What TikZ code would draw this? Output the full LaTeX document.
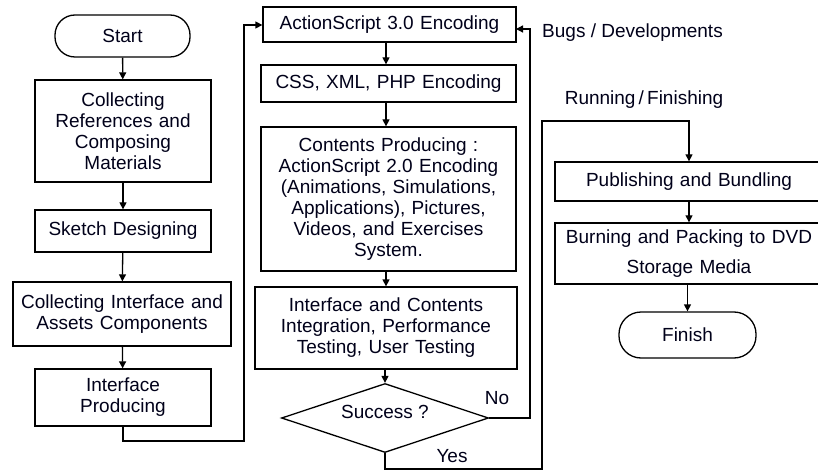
\documentclass[tikz,border=0pt]{standalone}
\usepackage{fontspec}
\setmainfont{Liberation Sans}
\usetikzlibrary{arrows.meta,shapes.geometric}
\begin{document}
\begin{tikzpicture}[x=1pt,y=-1pt,
  every node/.style={font=\fontsize{19}{21}\selectfont, text=black!90!blue},
  box/.style={draw, line width=1.3pt, align=center, inner sep=0pt, text width=#1},
  term/.style={draw, line width=1.3pt, rounded corners=20pt, inner sep=0pt},
  dec/.style={draw, line width=1.3pt, diamond, inner sep=0pt, minimum width=207pt, minimum height=69pt},
  arr/.style={draw, line width=1.3pt, -{Triangle[length=7pt,width=7pt]}},
  ln/.style={draw, line width=1.3pt},
  lbl/.style={inner sep=0pt}
]
\useasboundingbox (0,0) rectangle (818,470);
\clip (0,0) rectangle (818,470);
% left column
\node[term, minimum width=135pt, minimum height=42pt] (start) at (122.5,36) {Start};
\node[box=176pt, minimum height=102pt] (refs) at (123,131) {Collecting\\References and\\Composing\\Materials};
\node[box=176pt, minimum height=42pt] (sketch) at (123,231) {Sketch Designing};
\node[box=218pt, minimum height=64pt] (collint) at (122,314) {Collecting Interface and\\Assets Components};
\node[box=176pt, minimum height=57pt] (ifprod) at (123,397.5) {Interface\\Producing};
% middle column
\node[box=253pt, minimum height=35pt] (as3) at (389.5,24.5) {ActionScript 3.0 Encoding};
\node[box=255pt, minimum height=37pt] (css) at (388.5,83.5) {CSS, XML, PHP Encoding};
\node[box=255pt, minimum height=144pt] (cont) at (388.5,199) {Contents Producing :\\ActionScript 2.0 Encoding\\(Animations, Simulations,\\Applications), Pictures,\\Videos, and Exercises\\System.};
\node[box=262pt, minimum height=82pt] (integ) at (386,328) {Interface and Contents\\Integration, Performance\\Testing, User Testing};
\node[dec] (succ) at (385,418) {};
\node[lbl] at (385,412) {Success ?};
% right column
\node[box=268pt, minimum height=39pt] (pub) at (689,181.5) {Publishing and Bundling};
\node[box=268pt, minimum height=61pt] (burn) at (689,253.5) {Burning and Packing to DVD\\[9pt]Storage Media};
\node[term, minimum width=137pt, minimum height=46pt, rounded corners=22pt] (fin) at (687.5,335) {Finish};
% labels
\node[lbl] (no) at (497,398) {No};
\node[lbl] (yes) at (452,456) {Yes};
\node[lbl, anchor=west] (bugs) at (542,33) {Bugs / Developments};
\node[lbl] (run) at (644,100) {Running\,/\,Finishing};
% coordinates
\coordinate (c1) at (123,441);
\coordinate (c2) at (244,441);
\coordinate (c3) at (244,25);
\coordinate (n1) at (530,418);
\coordinate (n2) at (530,29);
\coordinate (n3) at (516,29);
\coordinate (y1) at (385,469);
\coordinate (y2) at (542,469);
\coordinate (y3) at (542,121);
\coordinate (y4) at (689,121);
% connectors
\draw[arr] (start) -- (refs);
\draw[arr] (refs) -- (sketch);
\draw[arr] (sketch) -- (collint);
\draw[arr] (collint) -- (ifprod);
\draw[arr] (ifprod.south) -- (c1) -- (c2) -- (c3) -- (as3.west |- c3);
\draw[arr] (as3.south -| integ) -- (css.north -| integ);
\draw[arr] (css.south -| integ) -- (cont.north -| integ);
\draw[arr] (cont.south -| integ) -- (integ.north);
\draw[arr] (integ.south -| succ) -- (succ.north);
\draw[arr] (succ.east) -- (n1) -- (n2) -- (n3);
\draw[arr] (succ.south) -- (y1) -- (y2) -- (y3) -- (y4) -- (pub.north);
\draw[arr] (pub) -- (burn);
\draw[arr] (burn.south -| fin) -- (fin.north);
\end{tikzpicture}
\end{document}
